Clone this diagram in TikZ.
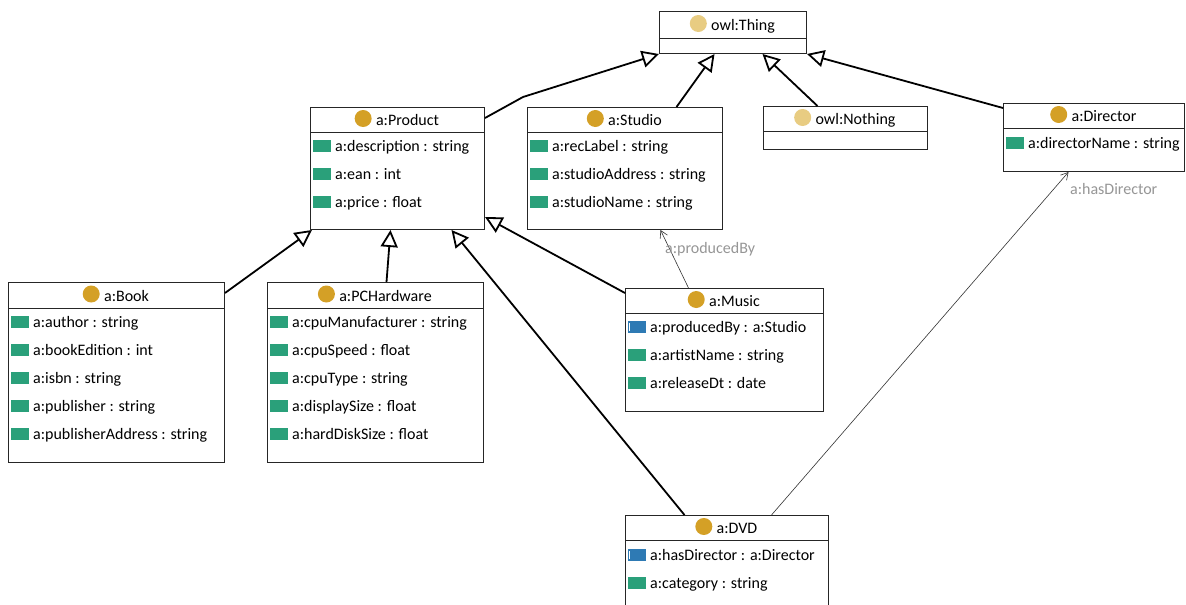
\documentclass[tikz,border=0pt]{standalone}
\usepackage{fontspec}
\setmainfont{Carlito}
\usetikzlibrary{arrows.meta,positioning,calc}

\definecolor{clsgold}{RGB}{212,160,38}
\definecolor{owlgold}{RGB}{232,204,130}
\definecolor{dataprop}{RGB}{42,160,122}
\definecolor{objprop}{RGB}{46,122,180}
\definecolor{rolegray}{RGB}{150,150,150}

\tikzset{
	x=1pt, y=-1pt,
	font=\fontsize{16}{19}\selectfont,
	classbox/.style={draw=black!85, line width=1pt, fill=white, anchor=north west, inner sep=0pt},
	divider/.style={draw=black!85, line width=1pt},
	clsdot/.style={circle, fill=#1, minimum width=16pt, minimum height=17pt, inner sep=0pt, xshift=-4pt, yshift=1pt},
	propsq/.style={fill=#1, minimum width=18pt, minimum height=12pt, inner sep=0pt, xshift=-4pt},
	objsq/.style={propsq=objprop, path picture={\draw[white, line width=0.8pt]
		([xshift=2pt,yshift=2pt]path picture bounding box.south west) --
		([xshift=2pt,yshift=-2pt]path picture bounding box.north west);}},
	title/.style={inner sep=0pt, text height=14pt, text depth=2pt,
		label={[clsdot=#1]left:{}}},
	title/.default=clsgold,
	attr/.style={anchor=west, inner sep=0pt, text height=13pt, text depth=3pt,
		label={[propsq=dataprop]left:{}}},
	objattr/.style={anchor=west, inner sep=0pt, text height=13pt, text depth=3pt,
		label={[objsq]left:{}}},
	gen/.style={line width=1.8pt, draw=black, -{Triangle[open, length=17pt, width=17pt]}},
	role/.style={line width=0.6pt, draw=black!80, -{Straight Barb[length=7pt, width=8pt]}},
	rolelabel/.style={text=rolegray, anchor=west, inner sep=0pt},
}

\begin{document}
\begin{tikzpicture}
	\useasboundingbox (0,0) rectangle (1186,605);
	\clip (0,0) rectangle (1186,605);
	\fill[white] (0,0) rectangle (1186,605);

	% top of the hierarchy
	\node[classbox, minimum width=147pt, minimum height=42pt] (thing) at (659,11) {};
	\draw[divider] ([yshift=-27pt]thing.north west) -- ([yshift=-27pt]thing.north east);
	\node[title=owlgold] (thingname) at ($(thing.north)+(10,13.5)$) {owl:Thing};

	\node[classbox, minimum width=164pt, minimum height=43pt] (nothing) at (763,106) {};
	\draw[divider] ([yshift=-25pt]nothing.north west) -- ([yshift=-25pt]nothing.north east);
	\node[title=owlgold] (nothingname) at ($(nothing.north)+(10,12.5)$) {owl:Nothing};

	% a:Product
	\node[classbox, minimum width=174pt, minimum height=122pt] (product) at (310,107) {};
	\draw[divider] ([yshift=-25pt]product.north west) -- ([yshift=-25pt]product.north east);
	\node[title] (productname) at ($(product.north)+(10,12.5)$) {a:Product};
	\node[attr] (productdesc) at (335,146) {a:description : string};
	\node[attr] (productean) at (335,174) {a:ean : int};
	\node[attr] (productprice) at (335,202) {a:price : float};

	% a:Studio
	\node[classbox, minimum width=195pt, minimum height=122pt] (studio) at (527,107) {};
	\draw[divider] ([yshift=-25pt]studio.north west) -- ([yshift=-25pt]studio.north east);
	\node[title] (studioname) at ($(studio.north)+(10,12.5)$) {a:Studio};
	\node[attr] (studiolabel) at (552,146) {a:recLabel : string};
	\node[attr] (studioaddr) at (552,174) {a:studioAddress : string};
	\node[attr] (studioname2) at (552,202) {a:studioName : string};

	% a:Director
	\node[classbox, minimum width=181pt, minimum height=68pt] (director) at (1003,103) {};
	\draw[divider] ([yshift=-25pt]director.north west) -- ([yshift=-25pt]director.north east);
	\node[title] (directorname) at ($(director.north)+(10,12.5)$) {a:Director};
	\node[attr] (directorattr) at (1028,143) {a:directorName : string};

	% a:Book
	\node[classbox, minimum width=216pt, minimum height=180pt] (book) at (8,282) {};
	\draw[divider] ([yshift=-26pt]book.north west) -- ([yshift=-26pt]book.north east);
	\node[title] (bookname) at ($(book.north)+(10,13)$) {a:Book};
	\node[attr] (bookauthor) at (33,322) {a:author : string};
	\node[attr] (bookedition) at (33,350) {a:bookEdition : int};
	\node[attr] (bookisbn) at (33,378) {a:isbn : string};
	\node[attr] (bookpub) at (33,406) {a:publisher : string};
	\node[attr] (bookpubaddr) at (33,434) {a:publisherAddress : string};

	% a:PCHardware
	\node[classbox, minimum width=216pt, minimum height=180pt] (pchw) at (267,282) {};
	\draw[divider] ([yshift=-26pt]pchw.north west) -- ([yshift=-26pt]pchw.north east);
	\node[title] (pchwname) at ($(pchw.north)+(10,13)$) {a:PCHardware};
	\node[attr] (pchwmanu) at (292,322) {a:cpuManufacturer : string};
	\node[attr] (pchwspeed) at (292,350) {a:cpuSpeed : float};
	\node[attr] (pchwtype) at (292,378) {a:cpuType : string};
	\node[attr] (pchwdisplay) at (292,406) {a:displaySize : float};
	\node[attr] (pchwdisk) at (292,434) {a:hardDiskSize : float};

	% a:Music
	\node[classbox, minimum width=198pt, minimum height=123pt] (music) at (625,288) {};
	\draw[divider] ([yshift=-25pt]music.north west) -- ([yshift=-25pt]music.north east);
	\node[title] (musicname) at ($(music.north)+(10,12.5)$) {a:Music};
	\node[objattr] (musicprod) at (650,327) {a:producedBy : a:Studio};
	\node[attr] (musicartist) at (650,355) {a:artistName : string};
	\node[attr] (musicrelease) at (650,383) {a:releaseDt : date};

	% a:DVD
	\node[classbox, minimum width=203pt, minimum height=110pt] (dvd) at (625,515) {};
	\draw[divider] ([yshift=-25pt]dvd.north west) -- ([yshift=-25pt]dvd.north east);
	\node[title] (dvdname) at ($(dvd.north)+(10,12.5)$) {a:DVD};
	\node[objattr] (dvddirector) at (650,555) {a:hasDirector : a:Director};
	\node[attr] (dvdcategory) at (650,583) {a:category : string};

	% subclass edges
	\coordinate (productbend) at (523,97);
	\draw[gen] ([yshift=-11pt]product.north east) -- (productbend) -- (thing.south west);
	\draw[gen] ([xshift=51.5pt]studio.north) -- ([xshift=-18.5pt]thing.south);
	\draw[gen] ([xshift=-28pt]nothing.north) -- ([xshift=29.5pt]thing.south);
	\draw[gen] ([yshift=-5pt]director.north west) -- (thing.south east);
	\draw[gen] ([yshift=-11pt]book.north east) -- ([xshift=2pt]product.south west);
	\draw[gen] ([xshift=11pt]pchw.north) -- ([xshift=-7pt]product.south);
	\draw[gen] ([xshift=-42.5pt]dvd.north) -- ([xshift=54pt]product.south);
	\draw[gen] ([yshift=-5pt]music.north west) -- ([yshift=13pt]product.south east);

	% object properties
	\draw[role] ([xshift=-36pt]music.north) -- ([xshift=35.5pt]studio.south);
	\node[rolelabel] (producedby) at (665,249) {a:producedBy};
	\draw[role] ([xshift=44.5pt]dvd.north) -- ([xshift=-25.5pt]director.south);
	\node[rolelabel] (hasdirector) at (1070,189) {a:hasDirector};
\end{tikzpicture}
\end{document}
